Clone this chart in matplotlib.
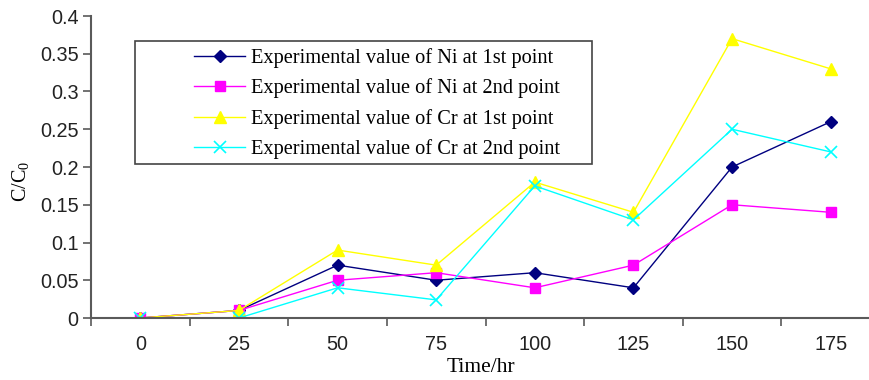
import numpy as np
import matplotlib.pyplot as plt
from matplotlib.patches import Rectangle
from matplotlib.ticker import FixedLocator, NullFormatter

# data
time_hr = ['0', '25', '50', '75', '100', '125', '150', '175']
ni_first = [0, 0.01, 0.07, 0.05, 0.06, 0.04, 0.20, 0.26]
ni_second = [0, 0.01, 0.05, 0.06, 0.04, 0.07, 0.15, 0.14]
cr_first = [0, 0.01, 0.09, 0.07, 0.18, 0.14, 0.37, 0.33]
cr_second = [0, 0, 0.04, 0.024, 0.175, 0.13, 0.25, 0.22]
labels = ['Experimental value of Ni at 1st point',
          'Experimental value of Ni at 2nd point',
          'Experimental value of Cr at 1st point',
          'Experimental value of Cr at 2nd point']

serif = 'Liberation Serif'
sans = 'Liberation Sans'
axis_col = '#5a5a5a'
plt.rcParams['mathtext.fontset'] = 'custom'
plt.rcParams['mathtext.rm'] = serif

W, H = 869, 380
fig = plt.figure(figsize=(W / 100, H / 100), dpi=100)
# axes runs past the right edge, as in the cropped original
ax = fig.add_axes([91 / W, 1 - 318 / H, 789 / W, 302 / H])

x = np.arange(len(time_hr))
ax.plot(x, ni_first, color='#000080', marker='D', markersize=6, lw=1, label=labels[0])
ax.plot(x, ni_second, color='#ff00ff', marker='s', markersize=7, lw=1, label=labels[1])
ax.plot(x, cr_first, color='#ffff00', marker='^', markersize=8, lw=1, label=labels[2])
ax.plot(x, cr_second, color='#00ffff', marker='x', markersize=8, mew=1.2, lw=1, label=labels[3])

ax.set_xlim(-0.5, 7.5)
ax.set_ylim(0, 0.4)
ax.set_yticks(np.arange(0, 0.401, 0.05))
ax.set_yticklabels(['0', '0.05', '0.1', '0.15', '0.2', '0.25', '0.3', '0.35', '0.4'])
ax.set_xticks(x)
ax.set_xticklabels(time_hr)
ax.xaxis.set_minor_locator(FixedLocator(np.arange(-0.5, 8, 1)))
ax.xaxis.set_minor_formatter(NullFormatter())
ax.tick_params(axis='x', which='major', length=0, pad=12)
ax.tick_params(axis='x', which='minor', length=6, width=1.2, color=axis_col, direction='out')
ax.tick_params(axis='y', which='major', length=6, width=1.2, color=axis_col, direction='out', pad=3)
for lab in ax.get_xticklabels() + ax.get_yticklabels():
    lab.set_fontfamily(sans)
    lab.set_fontsize(14.3)
    lab.set_color('#222222')

for s in ['top', 'right']:
    ax.spines[s].set_visible(False)
for s in ['left', 'bottom']:
    ax.spines[s].set_color(axis_col)
    ax.spines[s].set_linewidth(1.5)

# axis titles placed where they sit in the original
fig.text(481 / W, 1 - 367 / H, 'Time/hr', family=serif, fontsize=15.5,
         ha='center', va='center')
fig.text(21 / W, 1 - 181 / H, 'C/C$_0$', family=serif, fontsize=14.5,
         ha='center', va='center', rotation=90)

# legend box (Excel style, wide left margin)
box = Rectangle((135 / W, 1 - 164 / H), 457 / W, 123 / H, transform=fig.transFigure,
                facecolor='white', edgecolor='#444444', linewidth=1.2, zorder=4)
ax.add_patch(box)
box.set_clip_on(False)

leg = ax.legend(loc='upper left', bbox_to_anchor=(194 / W, 1 - 48 / H),
                bbox_transform=fig.transFigure,
                prop={'family': serif, 'size': 14.7}, frameon=False,
                handlelength=2.5, handletextpad=0.3, labelspacing=0.52,
                borderpad=0, borderaxespad=0)
leg.set_zorder(5)

fig.savefig('out.png', dpi=100)
